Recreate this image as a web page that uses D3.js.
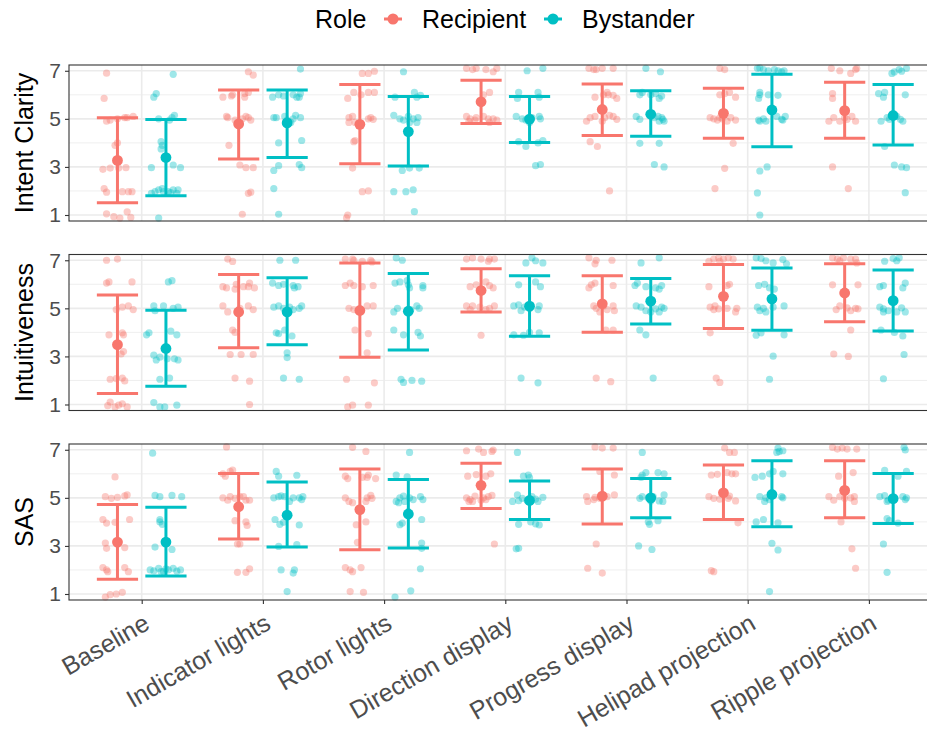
<!DOCTYPE html>
<html>
<head>
<meta charset="utf-8">
<script src="https://cdn.jsdelivr.net/npm/d3@7"></script>
<style>
  body { margin: 0; background: #fff; }
  svg { display: block; font-family: "Liberation Sans", Arial, sans-serif; }
</style>
</head>
<body>
<svg id="chart"></svg>
<script>
// categories and labels
const categories = ["Baseline", "Indicator lights", "Rotor lights", "Direction display",
  "Progress display", "Helipad projection", "Ripple projection"];
const measures = ["Intent Clarity", "Intuitiveness", "SAS"];
const roles = ["Recipient", "Bystander"];
const yTicks = [1, 3, 5, 7];

// mean and mean +/- sd
const clarityRecMean = [3.27, 4.79, 4.77, 5.71, 5.39, 5.23, 5.34];
const clarityRecLo   = [1.51, 3.33, 3.13, 4.81, 4.31, 4.19, 4.19];
const clarityRecHi   = [5.05, 6.20, 6.43, 6.61, 6.45, 6.27, 6.52];
const clarityBysMean = [3.39, 4.83, 4.47, 4.99, 5.19, 5.37, 5.14];
const clarityBysLo   = [1.80, 3.39, 3.04, 4.02, 4.28, 3.84, 3.91];
const clarityBysHi   = [4.97, 6.20, 5.93, 5.93, 6.17, 6.86, 6.43];

const intuRecMean = [3.49, 4.85, 4.91, 5.74, 5.19, 5.50, 5.64];
const intuRecLo   = [1.46, 3.36, 2.97, 4.85, 4.01, 4.16, 4.44];
const intuRecHi   = [5.55, 6.41, 6.89, 6.65, 6.36, 6.82, 6.86];
const intuBysMean = [3.33, 4.85, 4.88, 5.09, 5.30, 5.39, 5.32];
const intuBysLo   = [1.76, 3.49, 3.27, 3.84, 4.35, 4.09, 4.06];
const intuBysHi   = [4.92, 6.27, 6.45, 6.36, 6.24, 6.68, 6.60];

const sasRecMean = [3.16, 4.63, 4.51, 5.52, 5.07, 5.21, 5.31];
const sasRecLo   = [1.61, 3.29, 2.84, 4.56, 3.91, 4.10, 4.17];
const sasRecHi   = [4.72, 6.01, 6.20, 6.44, 6.20, 6.37, 6.54];
const sasBysMean = [3.16, 4.28, 4.33, 4.89, 5.00, 5.14, 4.97];
const sasBysLo   = [1.75, 2.95, 2.91, 4.10, 4.17, 3.80, 3.93];
const sasBysHi   = [4.61, 5.66, 5.76, 5.70, 5.80, 6.54, 6.01];

// jittered responses: [x jitter in category units, rating as drawn]
const clarityRecPts = [
  [[-0.09,6.9],[-0.11,5.85],[-0.09,4.9],[-0.06,4.95],[0.0,5.0],[0.06,5.05],[0.08,5.05],[0.13,5.1],[-0.02,3.9],[0.0,4.0],[-0.12,2.9],[-0.06,2.95],[0.01,2.95],[0.07,2.97],[-0.11,2.1],[-0.09,1.95],[0.04,1.97],[0.09,1.97],[0.12,1.97],[-0.09,1.05],[-0.03,0.93],[0.02,0.87],[0.08,1.13],[0.11,0.9]],
  [[0.08,6.96],[0.12,6.82],[-0.13,5.9],[-0.06,5.95],[0.05,6.05],[0.05,5.9],[0.08,6.1],[-0.05,6.0],[-0.1,5.1],[-0.09,5.05],[-0.03,4.95],[0.03,5.0],[0.06,5.1],[0.08,5.05],[0.1,4.95],[-0.08,3.9],[0.01,3.08],[0.06,2.97],[0.12,2.97],[0.1,1.95],[0.08,1.9],[0.03,1.03]],
  [[0.02,6.89],[0.07,6.89],[0.12,6.98],[-0.1,5.85],[-0.05,6.1],[0.01,6.0],[0.07,6.1],[0.12,6.1],[-0.09,5.05],[-0.06,5.1],[-0.09,4.85],[-0.04,4.85],[0.07,5.0],[0.11,4.98],[0.09,5.05],[-0.04,4.1],[-0.05,4.05],[-0.06,2.95],[0.02,1.97],[0.07,2.0],[-0.11,0.88],[-0.1,1.0]],
  [[-0.12,7.1],[-0.07,7.05],[-0.04,7.1],[0.04,7.05],[0.1,6.96],[0.13,7.1],[0.07,6.1],[0.02,6.0],[-0.12,5.1],[-0.09,5.0],[-0.04,5.05],[0.02,5.1],[0.06,5.0],[0.1,5.0],[0.13,4.95],[-0.05,4.95],[0.07,4.85],[-0.1,4.9]],
  [[-0.11,7.1],[-0.07,7.05],[-0.05,7.05],[0.0,7.1],[0.09,7.1],[-0.06,5.9],[0.04,6.1],[0.05,6.0],[0.09,5.98],[0.12,5.85],[0.01,6.0],[-0.13,4.9],[-0.1,5.05],[-0.06,5.1],[0.0,4.9],[0.02,5.05],[0.06,5.15],[0.09,5.1],[0.12,4.98],[-0.1,4.05],[-0.04,3.85],[0.06,2.0]],
  [[-0.03,7.1],[0.01,7.05],[-0.03,6.0],[0.05,6.1],[0.1,5.9],[0.01,6.05],[-0.11,5.05],[-0.08,5.0],[-0.03,5.05],[0.03,4.9],[0.1,4.95],[-0.05,4.95],[-0.01,5.0],[0.06,5.05],[0.08,3.98],[0.01,2.94],[-0.07,2.1]],
  [[-0.11,7.1],[-0.04,7.0],[0.05,6.89],[0.09,7.05],[0.1,7.1],[-0.1,6.05],[-0.1,5.85],[-0.13,4.9],[-0.09,5.05],[-0.04,4.9],[0.02,4.98],[0.06,5.1],[0.09,4.9],[0.0,5.05],[-0.1,3.0],[0.03,2.1]]
];
const clarityBysPts = [
  [[0.06,6.85],[-0.1,5.9],[-0.08,6.05],[-0.06,5.0],[0.05,5.05],[0.07,5.15],[0.03,4.95],[-0.04,4.05],[-0.03,3.9],[-0.04,3.75],[-0.12,2.97],[0.06,3.08],[0.12,2.97],[-0.12,1.9],[-0.09,1.97],[-0.06,2.05],[-0.02,1.97],[0.02,1.97],[0.06,2.05],[0.09,1.9],[0.1,2.05],[-0.03,2.1],[0.04,1.93],[-0.06,0.87]],
  [[0.11,7.07],[-0.12,5.9],[-0.07,6.0],[-0.03,5.95],[0.05,6.0],[0.1,5.9],[0.11,6.05],[0.08,5.9],[-0.11,5.05],[-0.09,5.05],[0.05,5.0],[0.07,5.15],[0.11,5.05],[0.03,4.85],[0.0,4.95],[-0.02,5.1],[-0.07,4.0],[0.12,4.1],[-0.11,2.85],[-0.07,3.05],[0.1,3.1],[0.12,2.97],[-0.11,2.1],[-0.07,1.03]],
  [[-0.04,6.96],[0.05,6.1],[0.1,5.98],[-0.11,5.9],[0.07,5.9],[-0.12,5.15],[-0.07,5.0],[-0.04,4.95],[0.0,5.1],[0.04,5.0],[0.07,4.85],[0.08,5.05],[0.01,4.85],[-0.05,2.85],[0.01,2.95],[0.09,2.95],[-0.12,1.97],[-0.02,1.97],[0.04,2.05],[0.05,1.14]],
  [[-0.02,7.0],[0.11,7.1],[-0.09,6.1],[0.07,6.1],[0.08,5.9],[-0.1,5.85],[-0.11,5.1],[-0.06,5.0],[-0.03,4.95],[0.02,5.05],[0.08,5.1],[0.09,5.0],[0.0,4.85],[-0.09,4.05],[-0.03,3.85],[0.07,4.0],[0.11,4.1],[0.05,3.05],[0.09,3.1]],
  [[-0.04,7.1],[0.08,6.96],[-0.09,6.0],[-0.07,6.1],[0.0,6.0],[0.04,6.05],[0.09,5.95],[0.07,5.85],[-0.12,5.1],[-0.09,4.98],[0.03,5.05],[0.06,5.1],[0.07,4.9],[0.1,4.98],[0.11,4.9],[0.09,5.05],[-0.09,3.98],[0.07,3.98],[0.03,3.1],[0.11,3.0]],
  [[-0.12,7.1],[-0.07,7.05],[-0.03,7.0],[0.02,7.05],[0.1,7.0],[-0.1,7.12],[0.05,7.0],[0.08,6.95],[-0.1,6.0],[-0.11,5.85],[-0.03,6.0],[0.05,5.98],[-0.1,6.1],[-0.11,4.95],[-0.07,5.0],[-0.05,4.9],[0.04,5.1],[0.09,4.95],[0.11,5.1],[0.08,4.98],[-0.1,4.9],[-0.1,2.83],[-0.04,3.0],[-0.12,1.92],[-0.1,1.0]],
  [[-0.01,6.89],[0.01,6.95],[0.05,7.05],[0.11,7.1],[0.07,6.98],[-0.12,6.05],[-0.07,6.1],[-0.08,5.9],[0.1,6.0],[-0.1,4.9],[-0.05,5.05],[-0.03,4.98],[0.03,5.1],[0.08,4.9],[0.06,4.98],[-0.07,3.85],[0.01,3.08],[0.07,3.0],[0.11,2.97],[0.1,1.93]]
];

const intuRecPts = [
  [[-0.09,7.0],[0.0,7.05],[-0.09,6.05],[-0.07,6.1],[0.12,6.1],[-0.01,4.95],[0.04,5.05],[0.09,5.1],[0.13,4.95],[-0.07,3.9],[0.04,3.98],[0.05,3.9],[0.03,3.1],[0.05,3.2],[-0.06,2.05],[0.04,2.1],[0.06,1.98],[-0.01,2.08],[-0.06,1.1],[-0.02,0.9],[0.01,0.97],[0.08,0.9],[0.04,1.03],[-0.08,0.95]],
  [[-0.09,7.05],[-0.05,6.95],[-0.13,5.9],[-0.1,5.85],[-0.03,5.8],[0.04,5.9],[0.09,6.05],[0.13,5.85],[0.08,5.9],[-0.02,6.0],[-0.13,5.1],[-0.09,4.85],[0.01,5.0],[0.08,5.1],[0.12,4.95],[-0.05,4.1],[-0.03,4.0],[-0.07,3.08],[0.02,3.08],[0.12,3.08],[-0.03,2.1],[0.09,1.97],[0.09,1.0]],
  [[-0.12,7.05],[-0.06,7.05],[-0.05,7.0],[0.02,6.95],[0.09,7.0],[0.1,6.93],[-0.12,5.95],[-0.08,6.05],[-0.05,5.95],[0.02,5.9],[0.11,5.95],[-0.09,5.0],[-0.05,4.95],[0.06,5.1],[0.11,5.1],[0.01,4.9],[-0.04,4.1],[0.07,3.95],[0.06,3.15],[-0.11,2.05],[0.12,1.9],[-0.1,0.9],[-0.06,0.97],[0.07,0.97]],
  [[-0.12,7.05],[-0.07,7.1],[0.0,7.05],[0.07,7.05],[0.11,7.05],[0.06,6.96],[-0.09,5.9],[-0.04,5.98],[0.04,6.1],[0.07,5.95],[0.1,5.85],[-0.12,5.1],[-0.07,5.1],[-0.01,5.05],[0.07,5.0],[0.11,5.1],[-0.09,4.95],[0.04,4.95],[0.0,3.88]],
  [[-0.11,7.1],[-0.06,6.85],[-0.05,7.0],[0.08,7.0],[-0.09,5.98],[-0.06,6.05],[-0.11,5.85],[0.09,5.95],[-0.07,5.1],[-0.05,5.0],[-0.02,4.85],[0.04,4.95],[0.09,5.1],[0.1,4.9],[0.01,5.1],[0.03,4.1],[0.09,4.1],[-0.05,2.1],[0.07,1.95]],
  [[-0.12,6.96],[-0.08,7.05],[-0.04,7.1],[0.0,7.05],[0.04,7.1],[0.08,7.05],[-0.03,6.96],[-0.12,5.9],[0.05,6.0],[0.03,5.95],[-0.11,5.05],[-0.07,5.1],[-0.04,4.98],[0.03,5.0],[0.11,5.0],[0.1,4.85],[-0.08,4.95],[-0.11,3.98],[-0.06,2.1],[-0.03,1.92]],
  [[-0.1,7.1],[-0.06,7.05],[-0.04,6.98],[0.05,7.05],[0.09,7.05],[0.1,6.89],[-0.01,7.1],[-0.1,5.98],[0.11,5.98],[-0.07,4.95],[-0.04,5.1],[0.05,4.9],[0.09,5.0],[0.11,4.98],[0.02,5.02],[0.05,4.1],[-0.09,3.1],[0.03,3.0]]
];
const intuBysPts = [
  [[0.02,6.1],[0.05,6.15],[-0.1,5.1],[-0.02,5.1],[0.06,5.0],[0.1,5.05],[-0.09,4.9],[-0.16,3.9],[-0.14,3.98],[0.04,4.05],[0.09,3.9],[-0.1,3.05],[-0.05,2.97],[0.01,2.9],[0.07,2.9],[0.1,2.85],[-0.08,2.85],[-0.05,2.05],[0.03,2.1],[-0.1,1.08],[-0.05,0.9],[-0.01,0.9],[0.09,0.97]],
  [[-0.06,7.0],[0.07,7.0],[-0.12,6.05],[-0.07,5.95],[-0.03,6.0],[0.05,5.95],[0.09,5.9],[0.06,5.85],[-0.11,5.05],[-0.07,5.1],[-0.03,5.0],[0.02,5.05],[0.05,4.95],[0.1,5.0],[0.12,5.1],[0.0,4.85],[-0.09,3.98],[-0.07,3.95],[-0.02,4.1],[0.04,3.85],[0.0,3.15],[0.0,2.95],[-0.03,2.1],[0.1,2.05]],
  [[-0.1,7.1],[-0.05,7.0],[-0.11,6.05],[-0.07,6.1],[0.0,5.98],[0.01,5.85],[0.12,5.95],[0.12,5.85],[-0.01,6.15],[-0.12,4.85],[-0.09,5.0],[-0.01,4.85],[0.07,5.1],[0.09,5.0],[0.02,4.95],[-0.12,4.1],[-0.04,3.9],[0.08,4.0],[0.1,3.85],[-0.06,2.05],[-0.04,1.92],[0.03,2.0],[0.11,1.97]],
  [[-0.03,6.89],[0.02,7.1],[0.05,6.98],[0.11,6.89],[-0.09,5.98],[0.05,6.1],[0.09,5.9],[-0.13,5.1],[-0.09,5.15],[-0.07,4.9],[0.0,5.0],[0.07,4.95],[0.08,5.1],[-0.04,5.05],[-0.13,3.9],[-0.05,3.88],[0.0,4.0],[0.08,3.98],[-0.07,2.1],[0.07,1.9]],
  [[-0.08,6.89],[0.07,7.1],[-0.13,5.95],[-0.11,6.05],[-0.04,5.9],[0.04,5.85],[0.09,5.95],[0.07,5.8],[-0.12,5.1],[-0.08,5.05],[-0.04,4.9],[0.0,4.85],[0.04,4.98],[0.09,5.05],[0.11,5.0],[0.07,4.85],[-0.09,4.1],[-0.04,3.9],[0.02,2.1]],
  [[-0.13,7.1],[-0.09,7.07],[-0.05,6.98],[0.01,6.89],[0.09,7.03],[0.12,6.85],[-0.06,6.0],[-0.02,5.85],[0.02,5.8],[-0.11,5.95],[-0.12,5.05],[-0.1,4.9],[-0.05,4.85],[0.01,5.05],[0.1,5.1],[-0.07,5.0],[-0.13,3.88],[-0.09,3.98],[0.1,3.9],[0.01,3.01],[-0.02,2.05]],
  [[-0.07,6.96],[0.0,7.07],[0.05,7.1],[0.03,6.98],[-0.11,5.9],[-0.08,5.95],[0.08,5.85],[0.1,6.05],[-0.11,5.05],[-0.08,4.98],[-0.04,4.9],[0.03,4.85],[0.1,4.85],[0.07,5.02],[-0.08,4.85],[-0.1,4.1],[0.01,4.0],[0.08,3.85],[0.09,3.08],[-0.08,2.07]]
];

const sasRecPts = [
  [[-0.02,5.87],[-0.1,5.05],[-0.05,4.98],[0.0,5.02],[0.06,5.08],[0.08,5.12],[-0.12,4.1],[-0.09,3.95],[-0.02,3.98],[0.1,4.1],[-0.1,3.12],[-0.09,2.9],[0.06,2.93],[-0.12,2.1],[-0.08,1.93],[0.06,2.1],[0.09,1.93],[-0.09,2.0],[-0.1,0.87],[-0.06,0.97],[-0.01,1.0],[0.04,1.07]],
  [[-0.1,7.12],[-0.11,5.9],[-0.07,6.1],[-0.05,6.15],[-0.13,6.0],[-0.13,5.0],[-0.07,5.05],[-0.03,4.98],[0.01,5.05],[0.04,5.05],[0.06,4.9],[0.09,4.9],[-0.09,4.9],[-0.03,4.05],[0.06,4.0],[0.07,3.85],[-0.01,3.08],[0.01,3.08],[-0.01,1.9],[0.06,1.9],[0.09,2.05]],
  [[-0.06,7.1],[0.05,6.93],[-0.12,5.9],[-0.1,5.8],[0.02,5.85],[0.07,5.95],[0.13,5.8],[0.06,5.85],[-0.12,5.0],[-0.09,4.85],[-0.06,4.8],[0.06,5.0],[0.09,5.1],[0.1,4.98],[0.05,4.85],[-0.03,3.88],[0.05,4.0],[-0.02,3.15],[-0.12,2.1],[-0.08,2.0],[-0.06,1.93],[0.01,2.1],[-0.08,1.1],[0.03,1.07]],
  [[-0.12,6.96],[-0.02,7.03],[0.02,6.89],[0.09,6.93],[0.1,6.99],[-0.11,5.9],[-0.04,5.97],[0.04,5.9],[0.08,6.0],[-0.12,5.0],[-0.09,4.93],[-0.05,5.07],[0.02,5.0],[0.09,5.1],[0.04,4.93],[-0.07,4.85],[-0.1,4.85],[0.0,4.9],[0.06,5.05],[0.11,3.08]],
  [[-0.06,7.12],[0.0,7.07],[0.09,7.07],[0.1,5.95],[-0.02,6.1],[-0.13,5.05],[-0.12,4.85],[-0.06,5.02],[-0.02,4.98],[0.04,5.05],[0.1,5.12],[-0.07,4.93],[-0.05,3.08],[-0.12,2.07],[0.0,1.87]],
  [[0.01,7.07],[0.05,6.89],[0.09,6.89],[-0.1,5.95],[-0.05,5.98],[0.03,6.05],[0.07,6.0],[0.1,6.0],[-0.12,5.05],[-0.08,4.98],[-0.03,4.95],[0.05,5.07],[0.1,4.87],[0.04,4.98],[0.12,3.96],[-0.1,1.97],[-0.08,1.93]],
  [[-0.1,7.1],[-0.06,7.03],[-0.02,7.07],[0.02,7.03],[0.1,7.03],[-0.05,5.9],[0.07,6.05],[-0.13,5.05],[-0.09,4.9],[-0.04,5.05],[0.05,5.0],[0.08,4.85],[0.08,5.05],[0.0,4.98],[-0.03,4.0],[0.06,2.88],[0.09,2.07]]
];
const sasBysPts = [
  [[-0.11,6.86],[-0.09,5.1],[-0.05,5.05],[0.05,5.1],[0.13,5.05],[-0.05,4.1],[-0.03,3.9],[-0.05,4.0],[-0.09,2.95],[0.05,2.85],[-0.13,2.0],[-0.1,1.96],[-0.06,2.07],[-0.02,1.93],[0.02,2.0],[0.06,2.07],[0.12,2.0],[-0.04,1.93],[0.0,2.05],[0.09,1.95]],
  [[-0.09,6.1],[-0.07,5.9],[0.08,5.94],[-0.11,5.0],[-0.07,5.05],[-0.05,5.08],[-0.02,5.05],[0.02,4.85],[0.05,5.0],[0.1,5.0],[0.12,4.93],[0.13,5.05],[-0.1,4.1],[-0.06,3.9],[-0.03,3.98],[0.1,3.87],[-0.07,2.98],[0.08,3.05],[-0.05,2.0],[0.06,2.0],[0.05,1.87],[0.0,1.1]],
  [[0.01,6.89],[-0.1,5.95],[-0.01,5.87],[-0.1,4.85],[-0.07,5.0],[-0.04,5.07],[0.01,5.0],[0.04,4.93],[0.12,4.93],[0.1,5.05],[-0.08,4.8],[-0.03,4.85],[-0.05,3.95],[0.11,4.1],[-0.07,3.88],[0.11,3.12],[0.11,2.9],[0.1,2.05],[-0.11,0.87],[0.02,1.13]],
  [[-0.1,6.89],[-0.05,5.9],[-0.01,5.95],[0.0,5.84],[-0.14,4.85],[-0.1,5.12],[-0.06,4.98],[-0.02,4.9],[0.02,5.05],[0.07,4.85],[0.11,5.02],[-0.09,4.88],[0.05,4.95],[-0.09,3.9],[0.01,4.0],[0.05,3.92],[0.08,3.87],[-0.11,2.88],[-0.09,2.9]],
  [[-0.07,6.89],[-0.07,5.95],[-0.04,6.05],[0.06,6.05],[0.11,6.0],[-0.08,5.85],[-0.09,4.98],[-0.07,5.05],[-0.02,5.0],[0.02,5.05],[0.07,4.87],[0.11,5.12],[0.1,4.85],[0.0,4.87],[-0.02,4.0],[0.06,4.05],[-0.01,3.9],[-0.1,3.0],[0.01,2.85]],
  [[0.05,7.07],[0.04,6.89],[0.09,6.96],[0.06,6.93],[-0.14,5.85],[-0.08,5.9],[-0.02,6.0],[0.09,6.0],[0.01,6.1],[-0.1,5.05],[-0.06,4.85],[-0.02,4.93],[0.09,5.0],[0.08,5.05],[-0.05,5.0],[-0.13,4.0],[-0.07,4.1],[0.05,3.96],[0.0,3.11],[0.05,2.83],[-0.02,1.1]],
  [[0.09,7.1],[0.1,6.99],[-0.07,6.14],[0.11,6.1],[0.04,5.9],[-0.11,5.05],[-0.07,5.09],[-0.04,4.9],[0.0,5.0],[0.08,5.05],[0.11,5.0],[-0.05,4.85],[0.1,4.93],[-0.05,4.14],[-0.03,4.05],[0.04,3.95],[-0.08,3.08],[-0.05,1.9]]
];

const colors = {Recipient: "#F8766D", Bystander: "#00BFC4"};

// build the facet table from the arrays above
const panels = [
  {title: measures[0], series: [
    {role: "Recipient", mean: clarityRecMean, lo: clarityRecLo, hi: clarityRecHi, pts: clarityRecPts},
    {role: "Bystander", mean: clarityBysMean, lo: clarityBysLo, hi: clarityBysHi, pts: clarityBysPts}]},
  {title: measures[1], series: [
    {role: "Recipient", mean: intuRecMean, lo: intuRecLo, hi: intuRecHi, pts: intuRecPts},
    {role: "Bystander", mean: intuBysMean, lo: intuBysLo, hi: intuBysHi, pts: intuBysPts}]},
  {title: measures[2], series: [
    {role: "Recipient", mean: sasRecMean, lo: sasRecLo, hi: sasRecHi, pts: sasRecPts},
    {role: "Bystander", mean: sasBysMean, lo: sasBysLo, hi: sasBysHi, pts: sasBysPts}]}
];

const width = 927, height = 733;
const svg = d3.select("#chart").attr("width", width).attr("height", height);

const panelLeft = 69, panelTops = [65, 254.5, 444], panelH = 156;
const x = d3.scalePoint().domain(categories).range([141.7, 868.9]);
const step = x.step();
const panelRight = x(categories[0]) - 0.6 * step + 7.2 * step;
const dodge = d3.scalePoint().domain(roles).range([-0.2 * step, 0.2 * step]);
const capHalf = 0.17 * step;

panels.forEach((p, i) => {
  const top = panelTops[i];
  const y = d3.scaleLinear().domain([0.75, 7.24]).range([top + panelH, top]);
  const g = svg.append("g");

  // grid
  g.selectAll(".minor").data([2, 4, 6]).enter().append("line")
    .attr("x1", panelLeft).attr("x2", panelRight)
    .attr("y1", d => y(d)).attr("y2", d => y(d))
    .attr("stroke", "#EBEBEB").attr("stroke-width", 0.8);
  g.selectAll(".major").data(yTicks).enter().append("line")
    .attr("x1", panelLeft).attr("x2", panelRight)
    .attr("y1", d => y(d)).attr("y2", d => y(d))
    .attr("stroke", "#EBEBEB").attr("stroke-width", 1.6);
  g.selectAll(".vgrid").data(categories).enter().append("line")
    .attr("x1", d => x(d)).attr("x2", d => x(d))
    .attr("y1", top).attr("y2", top + panelH)
    .attr("stroke", "#EBEBEB").attr("stroke-width", 1.6);

  // jittered responses
  p.series.forEach(s => {
    const flat = [];
    s.pts.forEach((grp, ci) => grp.forEach(d => flat.push({c: categories[ci], dx: d[0], v: d[1]})));
    g.selectAll(null).data(flat).enter().append("circle")
      .attr("cx", d => x(d.c) + dodge(s.role) + d.dx * step)
      .attr("cy", d => y(d.v))
      .attr("r", 3.6)
      .attr("fill", colors[s.role])
      .attr("fill-opacity", 0.38);
  });

  // error bars and means
  p.series.forEach(s => {
    const col = colors[s.role];
    const eb = g.selectAll(null).data(categories).enter().append("g")
      .attr("transform", c => `translate(${x(c) + dodge(s.role)},0)`);
    eb.append("line").attr("x1", 0).attr("x2", 0)
      .attr("y1", (c, ci) => y(s.lo[ci])).attr("y2", (c, ci) => y(s.hi[ci]))
      .attr("stroke", col).attr("stroke-width", 3);
    eb.append("line").attr("x1", -capHalf).attr("x2", capHalf)
      .attr("y1", (c, ci) => y(s.lo[ci])).attr("y2", (c, ci) => y(s.lo[ci]))
      .attr("stroke", col).attr("stroke-width", 3);
    eb.append("line").attr("x1", -capHalf).attr("x2", capHalf)
      .attr("y1", (c, ci) => y(s.hi[ci])).attr("y2", (c, ci) => y(s.hi[ci]))
      .attr("stroke", col).attr("stroke-width", 3);
    eb.append("circle").attr("cx", 0).attr("cy", (c, ci) => y(s.mean[ci]))
      .attr("r", 5.4).attr("fill", col);
  });

  // panel border
  g.append("rect").attr("x", panelLeft).attr("y", top)
    .attr("width", panelRight - panelLeft).attr("height", panelH)
    .attr("fill", "none").attr("stroke", "#333").attr("stroke-width", 1.1);

  // y axis
  const ya = g.append("g").attr("transform", `translate(${panelLeft},0)`)
    .call(d3.axisLeft(y).tickValues(yTicks).tickFormat(d3.format("d")).tickSize(4).tickPadding(4));
  ya.select(".domain").remove();
  ya.selectAll(".tick line").attr("stroke", "#333").attr("stroke-width", 1.1);
  ya.selectAll(".tick text").attr("fill", "#4D4D4D")
    .style("font-size", "21px").style("font-family", "Liberation Sans, Arial, sans-serif");

  // facet label as axis title
  g.append("text")
    .attr("transform", `translate(24,${top + panelH / 2}) rotate(-90)`)
    .attr("text-anchor", "middle").attr("dy", "0.35em")
    .style("font-size", "25px").attr("fill", "#000")
    .text(p.title);

  if (i === panels.length - 1) {
    const xa = g.append("g").attr("transform", `translate(0,${top + panelH})`)
      .call(d3.axisBottom(x).tickSize(4).tickPadding(2));
    xa.select(".domain").remove();
    xa.selectAll(".tick line").attr("stroke", "#333").attr("stroke-width", 1.1);
    xa.selectAll(".tick text")
      .attr("fill", "#4D4D4D")
      .style("font-size", "25px").style("font-family", "Liberation Sans, Arial, sans-serif")
      .attr("text-anchor", "end")
      .attr("y", 0).attr("dy", 0)
      .attr("transform", "translate(9,28) rotate(-30)");
  }
});

// legend
const legend = svg.append("g").attr("transform", "translate(0,19)");
legend.append("text").attr("x", 315).attr("dy", "0.35em")
  .style("font-size", "25px").text("Role");
const keyX = {Recipient: 393, Bystander: 553};
roles.forEach(r => {
  const k = legend.append("g").attr("transform", `translate(${keyX[r]},0)`);
  k.append("line").attr("x1", -9).attr("x2", 9).attr("stroke", colors[r]).attr("stroke-width", 3);
  k.append("circle").attr("r", 5.5).attr("fill", colors[r]);
  legend.append("text").attr("x", keyX[r] + 29).attr("dy", "0.35em")
    .style("font-size", "25px").text(r);
});
</script>
</body>
</html>
